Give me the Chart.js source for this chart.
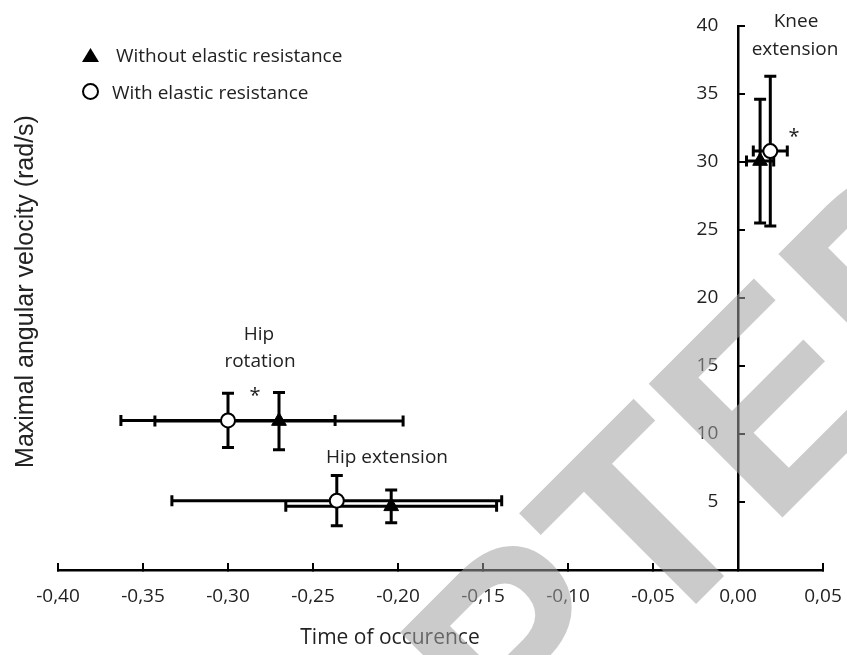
<!DOCTYPE html>
<html>
<head>
<meta charset="utf-8">
<script src="https://cdn.jsdelivr.net/npm/chart.js@4/dist/chart.umd.min.js"></script>
<style>
  html, body { margin: 0; padding: 0; background: #ffffff; overflow: hidden; }
  #wrap { width: 847px; height: 655px; position: relative; overflow: hidden; }
  canvas { display: block; }
</style>
</head>
<body>
<div id="wrap"><canvas id="chart"></canvas></div>
<script>
// ---- data ----
const categories = ['Hip rotation', 'Hip extension', 'Knee extension'];
const seriesLabels = ['Without elastic resistance', 'With elastic resistance'];

const withoutTime        = [-0.270, -0.204, 0.013];
const withoutTimeErr     = [0.073, 0.062, 0.008];
const withoutVelocity    = [10.95, 4.68, 30.07];
const withoutVelocityErr = [2.1, 1.2, 4.55];

const withTime        = [-0.300, -0.236, 0.019];
const withTimeErr     = [0.063, 0.097, 0.010];
const withVelocity    = [11.0, 5.1, 30.8];
const withVelocityErr = [2.0, 1.85, 5.5];

const xMin = -0.40, xMax = 0.05, xStep = 0.05;
const yMin = 0, yMax = 40, yStep = 5;

const xTitle = 'Time of occurence';
const yTitle = 'Maximal angular velocity (rad/s)';
const watermarkText = 'ACCEPTED';

// ---- build datasets ----
function pts(xs, ys, exs, eys) {
  return xs.map((x, i) => ({ x: x, y: ys[i], ex: exs[i], ey: eys[i], cat: categories[i] }));
}

const TEXT = '#222222';
const FONT = '"Open Sans", "Noto Sans", sans-serif';

const errorBars = {
  id: 'errorBars',
  beforeDatasetsDraw(chart) {
    const { ctx } = chart;
    const xs = chart.scales.x, ys = chart.scales.y;
    ctx.save();
    ctx.strokeStyle = '#000';
    ctx.lineCap = 'butt';
    chart.data.datasets.forEach(ds => {
      ds.data.forEach(p => {
        const px = xs.getPixelForValue(p.x), py = ys.getPixelForValue(p.y);
        const xl = xs.getPixelForValue(p.x - p.ex), xr = xs.getPixelForValue(p.x + p.ex);
        const yt = ys.getPixelForValue(p.y + p.ey), yb = ys.getPixelForValue(p.y - p.ey);
        ctx.lineWidth = 3;
        ctx.beginPath();
        ctx.moveTo(xl, py); ctx.lineTo(xr, py);
        ctx.moveTo(px, yt); ctx.lineTo(px, yb);
        ctx.stroke();
        ctx.lineWidth = 3;
        ctx.beginPath();
        ctx.moveTo(xl, py - 5.5); ctx.lineTo(xl, py + 5.5);
        ctx.moveTo(xr, py - 5.5); ctx.lineTo(xr, py + 5.5);
        ctx.moveTo(px - 6, yt); ctx.lineTo(px + 6, yt);
        ctx.moveTo(px - 6, yb); ctx.lineTo(px + 6, yb);
        ctx.stroke();
      });
    });
    ctx.restore();
  }
};

const decorations = {
  id: 'decorations',
  afterDraw(chart) {
    const { ctx } = chart;
    ctx.save();
    ctx.fillStyle = TEXT;
    ctx.textBaseline = 'alphabetic';

    // axis titles
    ctx.font = '21px ' + FONT;
    ctx.textAlign = 'center';
    ctx.fillText(xTitle, 390, 644);
    ctx.save();
    ctx.translate(33, 291.5);
    ctx.rotate(-Math.PI / 2);
    ctx.font = '25px "Liberation Sans", Arial, sans-serif';
    ctx.fillText(yTitle, 0, 0);
    ctx.restore();

    // category annotations
    ctx.font = '19px ' + FONT;
    ctx.textAlign = 'center';
    ctx.fillText('Hip', 259, 340);
    ctx.fillText('rotation', 260, 367);
    ctx.fillText('Hip extension', 387, 463);
    ctx.fillText('Knee', 796, 27);
    ctx.fillText('extension', 795, 55);

    // significance markers
    ctx.font = '20px ' + FONT;
    ctx.fillText('*', 255, 402);
    ctx.fillText('*', 794, 143);

    // legend
    ctx.textAlign = 'left';
    ctx.font = '19px ' + FONT;
    ctx.fillStyle = '#000';
    ctx.beginPath();
    ctx.moveTo(90.5, 48); ctx.lineTo(99, 62); ctx.lineTo(82, 62); ctx.closePath();
    ctx.fill();
    ctx.fillStyle = TEXT;
    ctx.fillText(chart.data.datasets[0].label, 116, 62);
    ctx.beginPath();
    ctx.arc(90.5, 91.5, 7.5, 0, Math.PI * 2);
    ctx.fillStyle = '#fff'; ctx.fill();
    ctx.lineWidth = 2; ctx.strokeStyle = '#000'; ctx.stroke();
    ctx.fillStyle = TEXT;
    ctx.fillText(chart.data.datasets[1].label, 112, 98.5);

    // watermark
    ctx.save();
    ctx.translate(-30, 1330);
    ctx.rotate(-Math.PI / 4);
    ctx.font = 'bold 275px "Liberation Sans", Arial, sans-serif';
    ctx.fillStyle = 'rgba(160,160,160,0.55)';
    ctx.textAlign = 'left';
    ctx.fillText(watermarkText, 0, 0);
    ctx.restore();

    ctx.restore();
  }
};

function fmtX(v) {
  if (Math.abs(v) < 1e-9) return '0,00';
  return v.toFixed(2).replace('.', ',');
}

new Chart(document.getElementById('chart'), {
  type: 'scatter',
  data: {
    datasets: [
      {
        label: seriesLabels[0],
        data: pts(withoutTime, withoutVelocity, withoutTimeErr, withoutVelocityErr),
        pointStyle: 'triangle',
        pointRadius: 8.5,
        pointHoverRadius: 8.5,
        backgroundColor: '#000',
        borderColor: '#000',
        borderWidth: 1
      },
      {
        label: seriesLabels[1],
        data: pts(withTime, withVelocity, withTimeErr, withVelocityErr),
        pointStyle: 'circle',
        pointRadius: 7,
        pointHoverRadius: 7,
        backgroundColor: '#fff',
        borderColor: '#000',
        borderWidth: 2
      }
    ]
  },
  options: {
    responsive: true,
    maintainAspectRatio: false,
    animation: false,
    events: [],
    layout: { padding: { left: 58, right: 24, top: 26, bottom: 0 } },
    plugins: {
      legend: { display: false },
      tooltip: { enabled: false }
    },
    scales: {
      x: {
        type: 'linear',
        position: 'bottom',
        min: xMin, max: xMax,
        afterFit(s) { s.height = 85; s.paddingLeft = 0; s.paddingRight = 0; },
        border: { display: true, color: '#000', width: 2.5 },
        grid: { display: true, drawOnChartArea: false, drawTicks: true, tickLength: -7, color: '#000', lineWidth: 2 },
        ticks: {
          stepSize: xStep,
          padding: 22,
          color: TEXT,
          font: { family: FONT, size: 19 },
          maxRotation: 0,
          autoSkip: false,
          callback: v => fmtX(v)
        },
        title: { display: false }
      },
      y: {
        type: 'linear',
        position: { x: 0 },
        min: yMin, max: yMax,
        afterFit(s) { s.width = 0; s.paddingTop = 0; s.paddingBottom = 0; },
        border: { display: true, color: '#000', width: 2.5 },
        grid: { display: true, drawOnChartArea: false, drawTicks: true, tickLength: -8, color: '#000', lineWidth: 2 },
        ticks: {
          stepSize: yStep,
          color: TEXT,
          font: { family: FONT, size: 19 },
          callback: v => (v === 0 ? '' : String(v) + '    ')
        },
        title: { display: false }
      }
    }
  },
  plugins: [errorBars, decorations]
});
</script>
</body>
</html>
